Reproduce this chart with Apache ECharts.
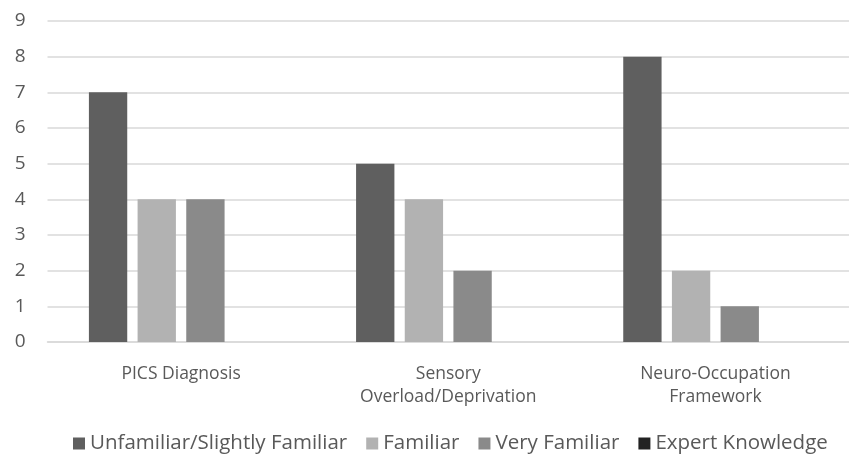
<!DOCTYPE html>
<html>
<head>
<meta charset="utf-8">
<script src="https://cdn.jsdelivr.net/npm/echarts@6/dist/echarts.min.js"></script>
<style>
    html, body { margin: 0; padding: 0; background: #fff; }
    #chart { width: 849px; height: 471px; }
</style>
</head>
<body>
<div id="chart"></div>
<script>
const categories = ['PICS Diagnosis', 'Sensory\nOverload/Deprivation', 'Neuro-Occupation\nFramework'];
const seriesNames = ['Unfamiliar/Slightly Familiar', 'Familiar', 'Very Familiar', 'Expert Knowledge'];
const unfamiliar = [7, 5, 8];
const familiar = [4, 4, 2];
const veryFamiliar = [4, 2, 1];
const expert = [0, 0, 0];
const colors = ['#5f5f5f', '#b2b2b2', '#8a8a8a', '#222222'];

const font = 'Open Sans';

const chart = echarts.init(document.getElementById('chart'));

const bar_item = (name, data, color) => ({
    type: 'bar',
    name: name,
    data: data,
    itemStyle: {color: color},
    barGap: '27%',
    barCategoryGap: '31%'
});

chart.setOption({
    animation: false,
    textStyle: {fontFamily: font},
    // plot area runs past the right edge of the picture, as in the source
    grid: {left: 47.5, width: 807, top: 21, bottom: 129},
    legend: {
        bottom: 12,
        left: 68,
        icon: 'rect',
        itemWidth: 12,
        itemHeight: 12,
        itemGap: 19,
        textStyle: {fontSize: 20.5, color: '#595959', fontFamily: font},
        data: seriesNames
    },
    xAxis: {
        type: 'category',
        data: categories,
        axisLine: {lineStyle: {color: '#d9d9d9', width: 1.5}},
        axisTick: {show: false},
        axisLabel: {fontSize: 17.5, color: '#595959', lineHeight: 23, margin: 21}
    },
    yAxis: {
        type: 'value',
        min: 0,
        max: 9,
        interval: 1,
        axisLabel: {fontSize: 19, color: '#595959', margin: 22},
        splitLine: {lineStyle: {color: '#d9d9d9', width: 1.5}}
    },
    series: [
        bar_item(seriesNames[0], unfamiliar, colors[0]),
        bar_item(seriesNames[1], familiar, colors[1]),
        bar_item(seriesNames[2], veryFamiliar, colors[2]),
        bar_item(seriesNames[3], expert, colors[3])
    ]
});
</script>
</body>
</html>
